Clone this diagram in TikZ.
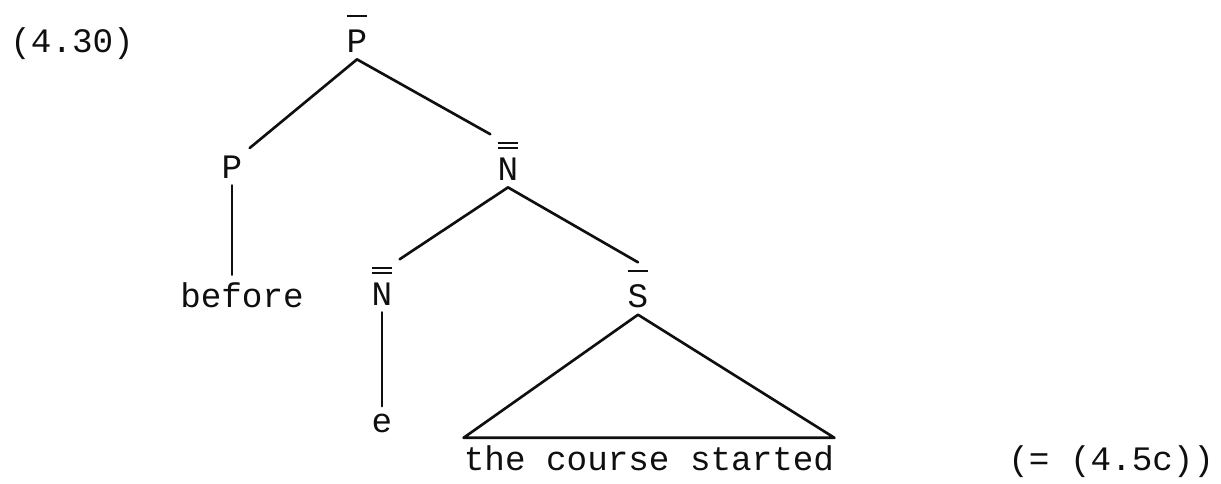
\documentclass[tikz,border=0pt]{standalone}
\usepackage{fontspec}
\setmonofont{Liberation Mono}
\usepackage{tikz}
\usetikzlibrary{positioning, calc}
\definecolor{ink}{RGB}{15,15,15}
\newcommand{\onebar}[1]{\vbox{\offinterlineskip\halign{\hfil##\hfil\cr
  \rule{0.6em}{1.2pt}\cr\noalign{\kern7pt}#1\cr}}}
\newcommand{\twobar}[1]{\vbox{\offinterlineskip\halign{\hfil##\hfil\cr
  \rule{0.6em}{1.2pt}\cr\noalign{\kern1.6pt}\rule{0.6em}{1.2pt}\cr
  \noalign{\kern5pt}#1\cr}}}
\tikzset{
  word/.style={font=\ttfamily\fontsize{19.5}{22}\selectfont, text=ink,
    inner sep=4pt, anchor=base},
  branch/.style={line width=1.5pt, color=ink, line cap=round, line join=round}
}

\begin{document}
\begin{tikzpicture}[x=1cm, y=1cm]
  \useasboundingbox (0,0) rectangle (24.42,-9.66);
  % Example numbers
  \node[word, anchor=base west] (exnum) at (0.06,-1.04) {(4.30)};
  \node[word, anchor=base west] (exref) at (20.02,-9.40) {(= (4.5c))};
  % Nodes of the tree
  \node[word] (pbar)  at (7.14,-1.04)  {\onebar{P}};
  \node[word] (p)     at (4.64,-3.56)  {P};
  \node[word] (nbarA) at (10.16,-3.60) {\twobar{N}};
  \node[word] (before) at (4.84,-6.14) {before};
  \node[word] (nbarB) at (7.64,-6.10)  {\twobar{N}};
  \node[word] (sbar)  at (12.76,-6.14) {\onebar{S}};
  \node[word] (e)     at (7.64,-8.64)  {e};
  \node[word, inner xsep=0pt] (clause) at (12.98,-9.40) {the course started};
  % Branches
  \draw[branch] (pbar.south) -- (p.north east);
  \draw[branch] (pbar.south) -- (nbarA.north west);
  \draw[branch] (p.south) -- (p.south |- before.north);
  \draw[branch] (nbarA.south) -- (nbarB.north east);
  \draw[branch] (nbarA.south) -- (sbar.north);
  \draw[branch] (nbarB.south) -- (e.north);
  % Triangle over the clause
  \draw[branch] (sbar.south) -- (clause.north west) -- (clause.north east) -- cycle;
\end{tikzpicture}
\end{document}
